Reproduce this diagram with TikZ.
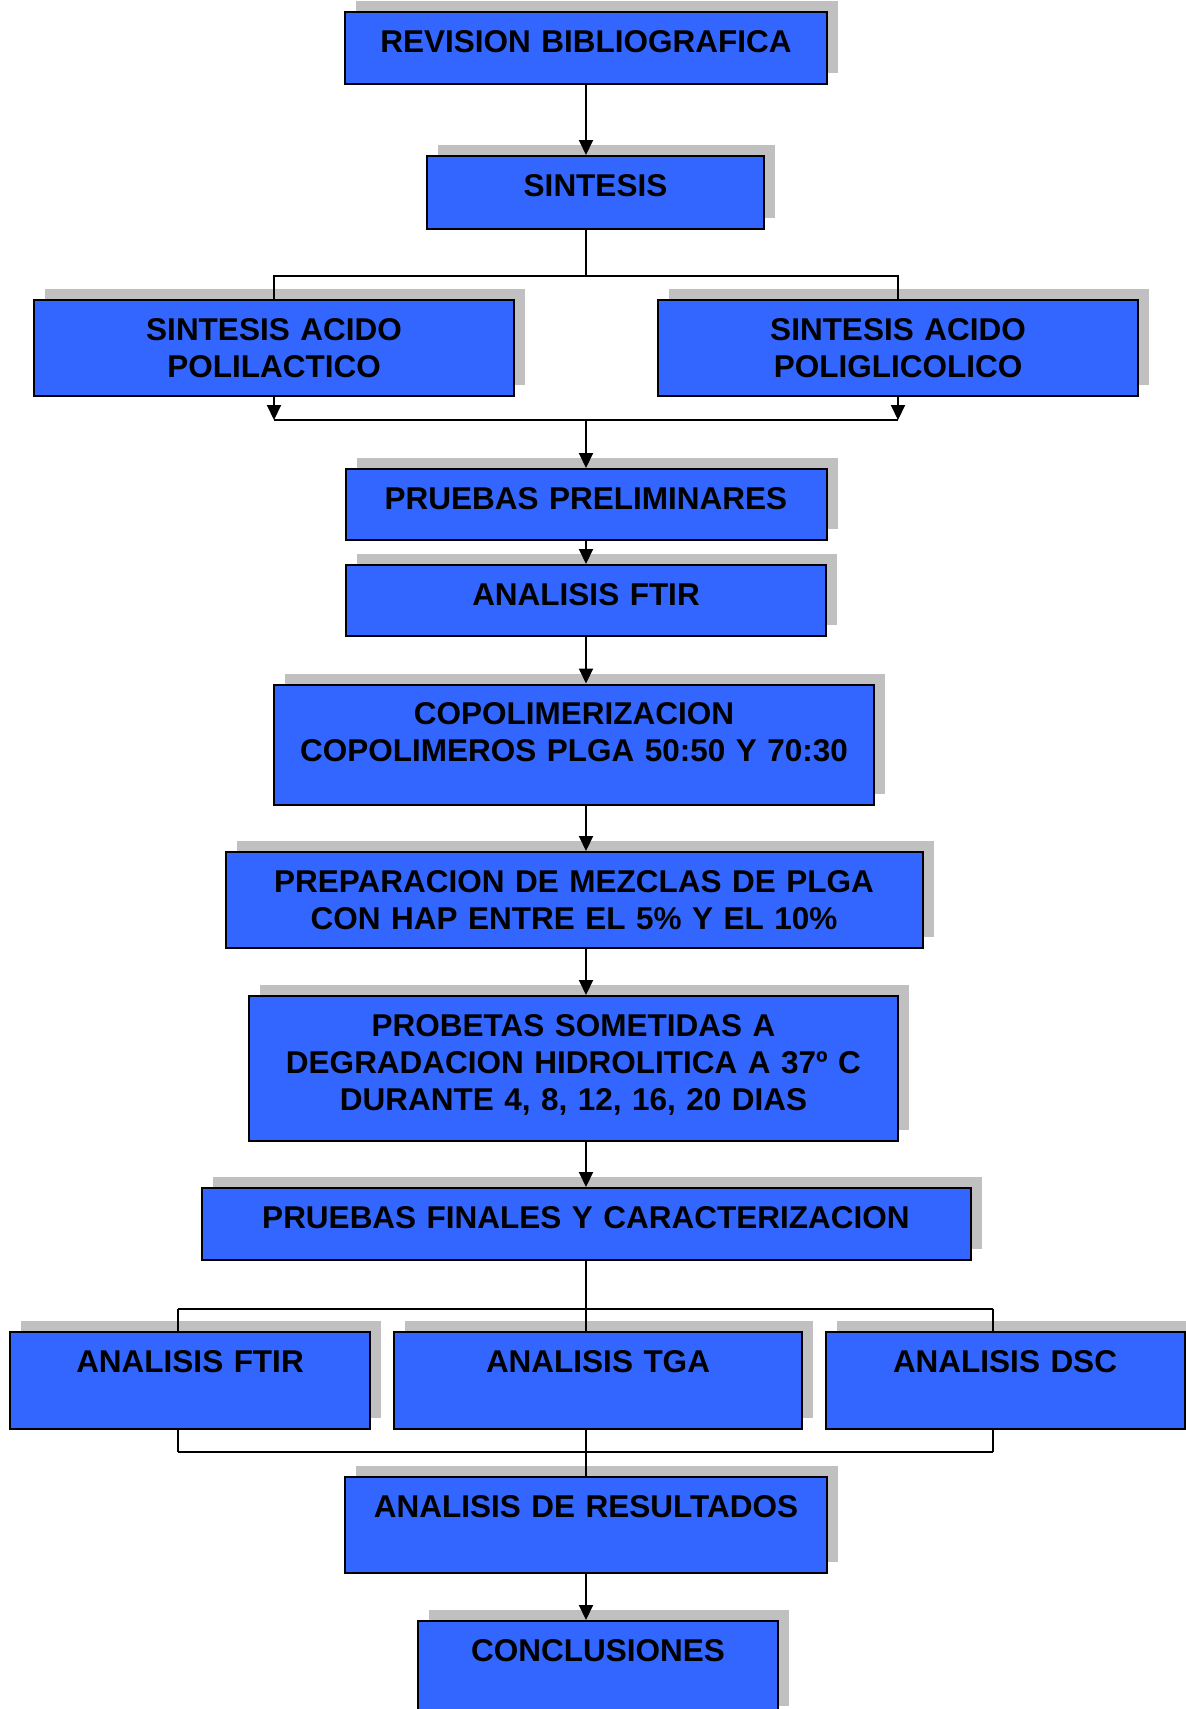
\documentclass[tikz,border=0pt]{standalone}
\usepackage{fontspec}
\setmainfont{Liberation Sans}
\usetikzlibrary{positioning,arrows.meta,shadows}

\definecolor{boxblue}{HTML}{3366FF}
\definecolor{shadowgray}{HTML}{C0C0C0}

\begin{document}
\begin{tikzpicture}[x=1pt,y=-1pt,
        box/.style={draw=black,line width=2pt,fill=boxblue,inner sep=0pt,
          align=center,text height=40pt,
          font=\bfseries\fontsize{31.5}{37}\selectfont,
          drop shadow={shadow xshift=11pt,shadow yshift=11pt,
            fill=shadowgray,opacity=1}},
        flow/.style={line width=2pt,-{Triangle[width=14pt,length=15pt]}},
        link/.style={line width=1.5pt}]
        \useasboundingbox (0,0) rectangle (1186,1709);

        \draw (586,48) node[box,text width=482pt,text depth=32pt] (rev)
        {REVISION BIBLIOGRAFICA};

        \draw (595.5,192.5) node[box,text width=337pt,text depth=33pt] (sint)
        {SINTESIS};

        \draw (274,348) node[box,text width=480pt,text depth=56pt] (pla)
        {SINTESIS ACIDO\\POLILACTICO};

        \draw (898,348) node[box,text width=480pt,text depth=56pt] (pga)
        {SINTESIS ACIDO\\POLIGLICOLICO};

        \draw (586,504.5) node[box,text width=481pt,text depth=31pt] (prel)
        {PRUEBAS PRELIMINARES};

        \draw (586,600.5) node[box,text width=480pt,text depth=31pt] (ftir)
        {ANALISIS FTIR};

        \draw (574,744.5) node[box,text width=600pt,text depth=80pt] (copol)
        {COPOLIMERIZACION\\COPOLIMEROS PLGA 50:50 Y 70:30};

        \draw (574,900) node[box,text width=697pt,text depth=56pt] (prep)
        {PREPARACION DE MEZCLAS DE PLGA\\CON HAP ENTRE EL 5\% Y EL 10\%};

        \draw (573.5,1068.5) node[box,text width=649pt,text depth=105pt] (prob)
        {PROBETAS SOMETIDAS A\\DEGRADACION HIDROLITICA A 37º C\\DURANTE 4, 8, 12, 16, 20 DIAS};

        \draw (586,1224) node[box,text width=769pt,text depth=32pt] (fin)
        {PRUEBAS FINALES Y CARACTERIZACION};

        \draw (190,1380.5) node[box,text width=360pt,text depth=57pt] (ftirb)
        {ANALISIS FTIR};

        \draw (598,1380.5) node[box,text width=408pt,text depth=57pt] (tga)
        {ANALISIS TGA};

        \draw (1005,1380.5) node[box,text width=359pt,text depth=57pt] (dsc)
        {ANALISIS DSC};

        \draw (586,1525) node[box,text width=482pt,text depth=56pt] (res)
        {ANALISIS DE RESULTADOS};

        \draw (598,1669) node[box,text width=360pt,text depth=56pt] (conc)
        {CONCLUSIONES};

        \coordinate (split1) at (586,276);

        \coordinate (join1) at (586,420);

        \coordinate (split2) at (586,1309);

        \coordinate (s2l) at (178,1309);

        \coordinate (s2r) at (993,1309);

        \coordinate (join2) at (586,1452);

        \coordinate (j2l) at (178,1452);

        \coordinate (j2r) at (993,1452);

        \draw[flow] (rev.south) -- (rev.south |- sint.north);

        \draw[link] (split1 |- sint.south) -- (split1);

        \draw[link] (split1) -| (pla.north);

        \draw[link] (split1) -| (pga.north);

        \draw[flow] (pla.south) -- (pla.south |- join1);

        \draw[flow] (pga.south) -- (pga.south |- join1);

        \draw[link] (pla.south |- join1) -- (pga.south |- join1);

        \draw[flow] (join1) -- (join1 |- prel.north);

        \draw[flow] (prel.south) -- (ftir.north);

        \draw[flow] (ftir.south) -- (ftir.south |- copol.north);

        \draw[flow] (ftir.south |- copol.south) -- (ftir.south |- prep.north);

        \draw[flow] (ftir.south |- prep.south) -- (ftir.south |- prob.north);

        \draw[flow] (fin.north |- prob.south) -- (fin.north);

        \draw[link] (fin.south) -- (split2);

        \draw[link] (s2l) -- (s2r);

        \draw[link] (s2l) -- (s2l |- ftirb.north);

        \draw[link] (split2) -- (split2 |- tga.north);

        \draw[link] (s2r) -- (s2r |- dsc.north);

        \draw[link] (j2l |- ftirb.south) -- (j2l);

        \draw[link] (join2 |- tga.south) -- (join2);

        \draw[link] (j2r |- dsc.south) -- (j2r);

        \draw[link] (j2l) -- (j2r);

        \draw[link] (join2) -- (res.north);

        \draw[flow] (res.south) -- (res.south |- conc.north);
      \end{tikzpicture}
\end{document}
